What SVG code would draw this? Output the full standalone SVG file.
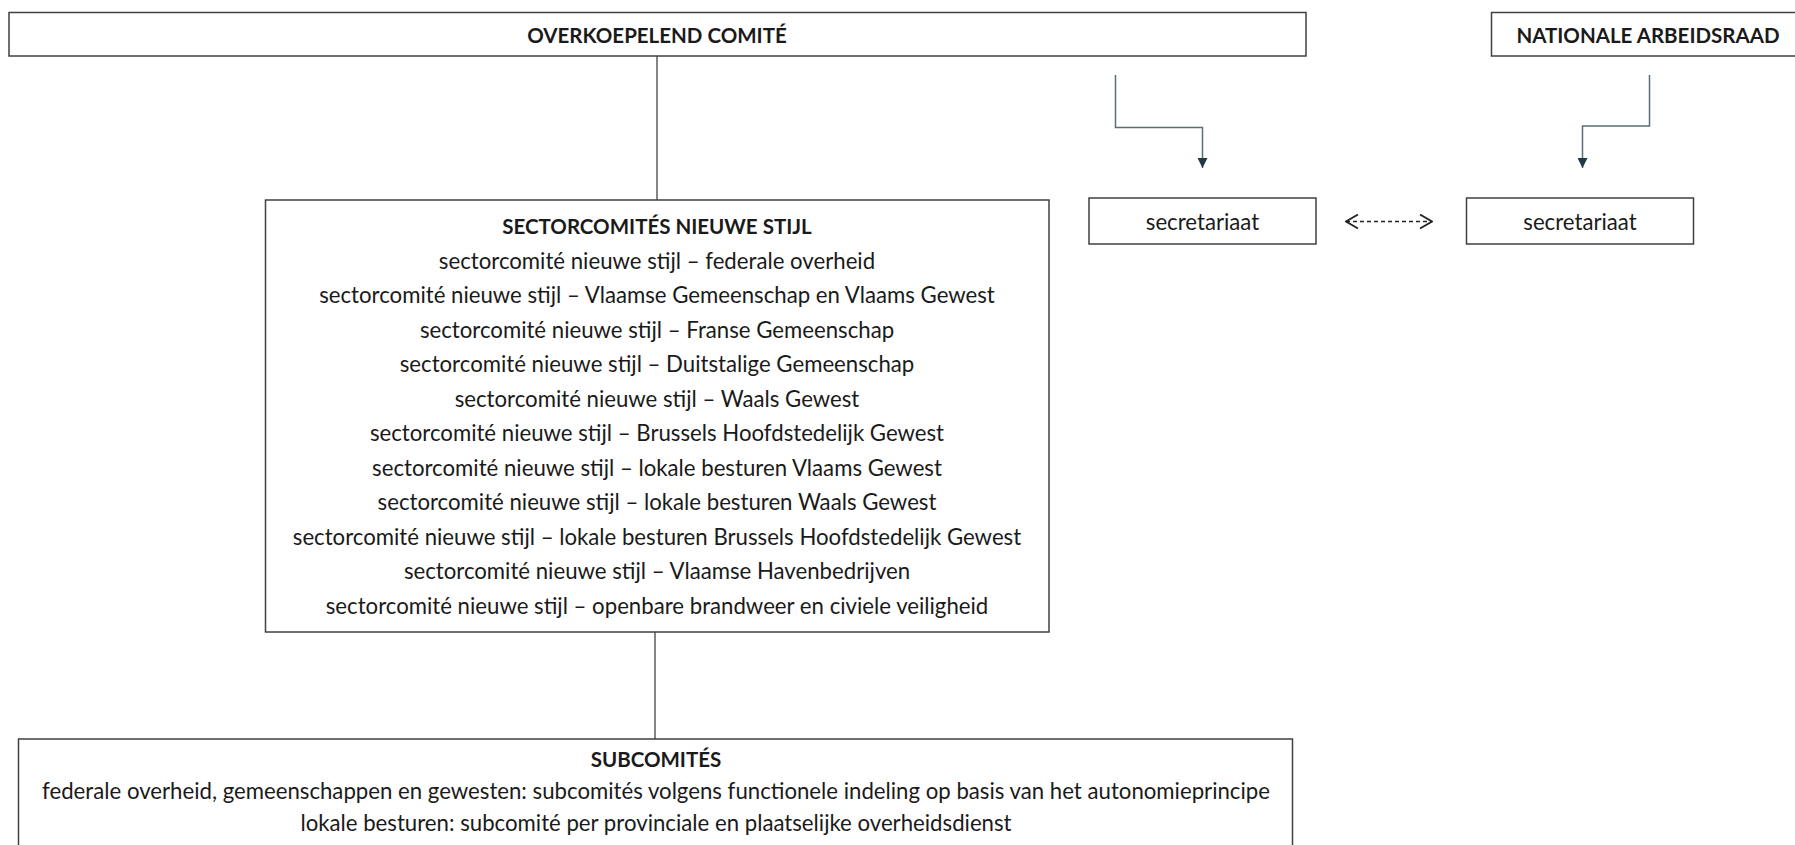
<svg xmlns="http://www.w3.org/2000/svg" width="1795" height="845" viewBox="0 0 1795 845">
<style>
.box{fill:#fff;stroke:#404040;stroke-width:1.5}
.t{font-family:Lato,"Liberation Sans",sans-serif;font-size:22.2px;fill:#1a1a1a;text-anchor:middle;dominant-baseline:central}
.b{font-weight:bold;font-size:20.5px}
.conn{fill:none;stroke:#333;stroke-width:1.2}
.sec{fill:none;stroke:#5a6e78;stroke-width:1.5}
.dash{fill:none;stroke:#222;stroke-width:1.3;stroke-dasharray:4 3}
</style>
<defs>
<marker id="tri" viewBox="0 0 10 10" refX="10" refY="5" markerWidth="10" markerHeight="10" markerUnits="userSpaceOnUse" orient="auto">
<path d="M0,0 L10,5 L0,10 Z" fill="#1f3a44"/>
</marker>
<marker id="chev" viewBox="0 0 14 16" refX="13" refY="8" markerWidth="14" markerHeight="16" markerUnits="userSpaceOnUse" orient="auto-start-reverse">
<path d="M1,1 L13,8 L1,15" fill="none" stroke="#222" stroke-width="1.8"/>
</marker>
</defs>
<g id="connectors">
<line class="conn" x1="657" y1="56" x2="657" y2="200"/>
<line class="conn" x1="655" y1="632" x2="655" y2="739"/>
<path class="sec" d="M1115.5,75 V127.5 H1202.5 V168" marker-end="url(#tri)"/>
<path class="sec" d="M1649.5,75 V126 H1582.5 V168" marker-end="url(#tri)"/>
<line class="dash" x1="1346" y1="221.5" x2="1432" y2="221.5" marker-start="url(#chev)" marker-end="url(#chev)"/>
</g>
<g id="overkoepelend">
<rect class="box" x="9" y="12.5" width="1297" height="43.5"/>
<text class="t b" x="657" y="34.5">OVERKOEPELEND COMITÉ</text>
</g>
<g id="nar">
<rect class="box" x="1491.5" y="12.5" width="320" height="43.5"/>
<text class="t b" x="1648" y="34.5">NATIONALE ARBEIDSRAAD</text>
</g>
<g id="secretariaat-links">
<rect class="box" x="1089" y="198" width="227" height="46"/>
<text class="t" x="1202.5" y="221">secretariaat</text>
</g>
<g id="secretariaat-rechts">
<rect class="box" x="1466.5" y="198" width="227" height="46"/>
<text class="t" x="1580" y="221">secretariaat</text>
</g>
<g id="sectorcomites">
<rect class="box" x="265.5" y="200" width="783.5" height="432"/>
<text class="t b" x="657" y="225.5">SECTORCOMITÉS NIEUWE STIJL</text>
<text class="t" x="657" y="260">sectorcomité nieuwe stijl – federale overheid</text>
<text class="t" x="657" y="294.5">sectorcomité nieuwe stijl – Vlaamse Gemeenschap en Vlaams Gewest</text>
<text class="t" x="657" y="329">sectorcomité nieuwe stijl – Franse Gemeenschap</text>
<text class="t" x="657" y="363.5">sectorcomité nieuwe stijl – Duitstalige Gemeenschap</text>
<text class="t" x="657" y="398">sectorcomité nieuwe stijl – Waals Gewest</text>
<text class="t" x="657" y="432.5">sectorcomité nieuwe stijl – Brussels Hoofdstedelijk Gewest</text>
<text class="t" x="657" y="467">sectorcomité nieuwe stijl – lokale besturen Vlaams Gewest</text>
<text class="t" x="657" y="501.5">sectorcomité nieuwe stijl – lokale besturen Waals Gewest</text>
<text class="t" x="657" y="536">sectorcomité nieuwe stijl – lokale besturen Brussels Hoofdstedelijk Gewest</text>
<text class="t" x="657" y="570.5">sectorcomité nieuwe stijl – Vlaamse Havenbedrijven</text>
<text class="t" x="657" y="605">sectorcomité nieuwe stijl – openbare brandweer en civiele veiligheid</text>
</g>
<g id="subcomites">
<rect class="box" x="18.5" y="739" width="1274" height="120"/>
<text class="t b" x="656" y="759">SUBCOMITÉS</text>
<text class="t" x="656" y="790.5">federale overheid, gemeenschappen en gewesten: subcomités volgens functionele indeling op basis van het autonomieprincipe</text>
<text class="t" x="656" y="822">lokale besturen: subcomité per provinciale en plaatselijke overheidsdienst</text>
</g>
</svg>
